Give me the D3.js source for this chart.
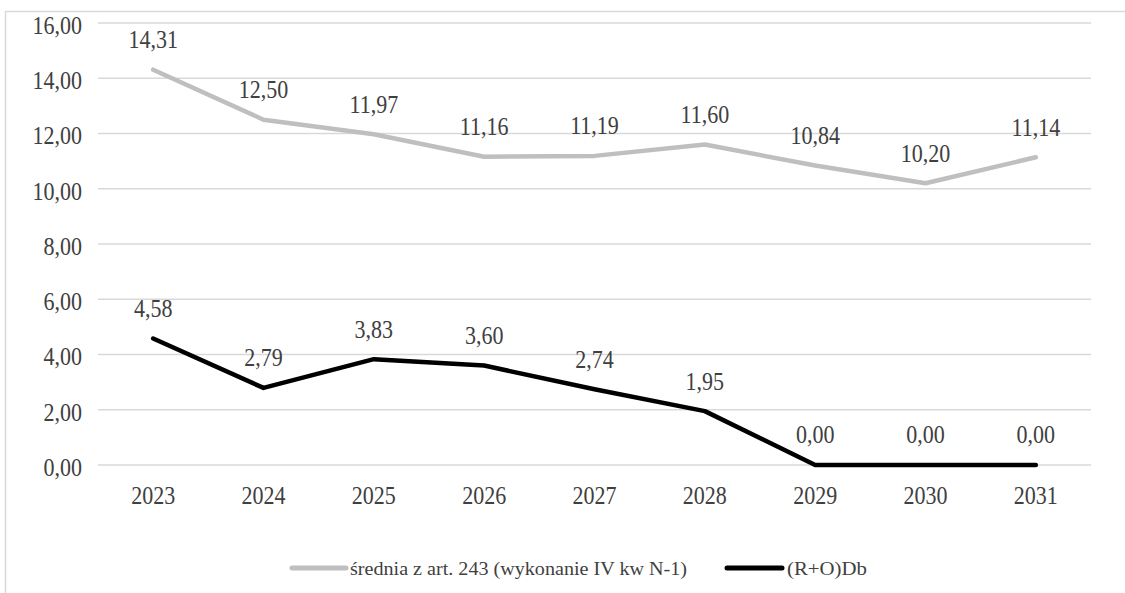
<!DOCTYPE html>
<html><head><meta charset="utf-8">
<script src="https://cdn.jsdelivr.net/npm/d3@7"></script>
<style>
html,body{margin:0;padding:0;background:#fff;}
</style></head>
<body>
<svg id="chart" width="1125" height="593"></svg>
<script>
const years = ["2023","2024","2025","2026","2027","2028","2029","2030","2031"];
const sredniaValues = [14.31,12.50,11.97,11.16,11.19,11.60,10.84,10.20,11.14];
const robValues = [4.58,2.79,3.83,3.60,2.74,1.95,0.00,0.00,0.00];
const yTicks = [0,2,4,6,8,10,12,14,16];
const seriesNames = ["średnia z art. 243 (wykonanie IV kw N-1)","(R+O)Db"];

(function(){
const FONT = "'Liberation Serif'";
const SY = 1.17;
const svg = d3.select("#chart");
const fmt = v => v.toFixed(2).replace(".", ",");

// outer frame
svg.append("path").attr("d","M5.5,593 L5.5,11.5 L1125,11.5")
  .attr("fill","none").attr("stroke","#d9d9d9").attr("stroke-width",1.5);

const pLeft = 98, pRight = 1091, pTop = 23, pBottom = 465;
const x = d3.scaleBand().domain(years).range([pLeft,pRight]);
const y = d3.scaleLinear().domain([0,16]).range([pBottom,pTop]);

// gridlines
svg.append("g").selectAll("line").data(yTicks).join("line")
  .attr("x1",pLeft).attr("x2",pRight)
  .attr("y1",d=>y(d)).attr("y2",d=>y(d))
  .attr("stroke","#d9d9d9").attr("stroke-width",1.5);

function styleText(sel, size){
  sel.style("font-family",FONT).attr("font-size",size).attr("fill","#404040");
}

// y axis labels
const yAxis = d3.axisLeft(y).tickValues(yTicks).tickFormat(fmt).tickSize(0).tickPadding(0);
const ya = svg.append("g").attr("transform",`translate(${pLeft-16},2)`).call(yAxis);
ya.select(".domain").remove();
ya.selectAll("text").call(styleText,22)
  .attr("dy","0.33em").attr("transform",`scale(1,${SY})`);

// x axis labels
const xAxis = d3.axisBottom(x).tickSize(0).tickPadding(0);
const xa = svg.append("g").attr("transform",`translate(0,${pBottom+31})`).call(xAxis);
xa.select(".domain").remove();
xa.selectAll("text").call(styleText,22)
  .attr("y",0).attr("dy","0.33em").attr("transform",`scale(1,${SY})`);

const cx = d => x(d) + x.bandwidth()/2;
const line = d3.line().x((d,i)=>cx(years[i])).y(d=>y(d));

const series = [
  {name:seriesNames[0], values:sredniaValues, color:"#bfbfbf"},
  {name:seriesNames[1], values:robValues, color:"#000000"}
];

series.forEach(s=>{
  svg.append("path").datum(s.values).attr("d",line)
    .attr("fill","none").attr("stroke",s.color).attr("stroke-width",4.5)
    .attr("stroke-linejoin","round").attr("stroke-linecap","round");
  const g = svg.append("g");
  g.selectAll("g").data(s.values).join("g")
    .attr("transform",(d,i)=>`translate(${cx(years[i])},${y(d)-30}) scale(1,${SY})`)
    .append("text")
    .attr("text-anchor","middle").attr("dy","0.33em")
    .call(styleText,22)
    .text(d=>fmt(d));
});

// legend
const legendItems = [
  {name:seriesNames[0], color:"#bfbfbf", x:292, w:54, tx:350, tl:337},
  {name:seriesNames[1], color:"#000000", x:727, w:55, tx:787, tl:80}
];
const lg = svg.append("g");
legendItems.forEach(it=>{
  lg.append("line").attr("x1",it.x).attr("x2",it.x+it.w).attr("y1",568).attr("y2",568)
    .attr("stroke",it.color).attr("stroke-width",5).attr("stroke-linecap","round");
  lg.append("g").attr("transform",`translate(${it.tx},569) scale(1,1.15)`)
    .append("text").attr("dy","0.33em")
    .attr("textLength",it.tl).attr("lengthAdjust","spacingAndGlyphs")
    .call(styleText,17).text(it.name);
});
})();
</script>
</body></html>
